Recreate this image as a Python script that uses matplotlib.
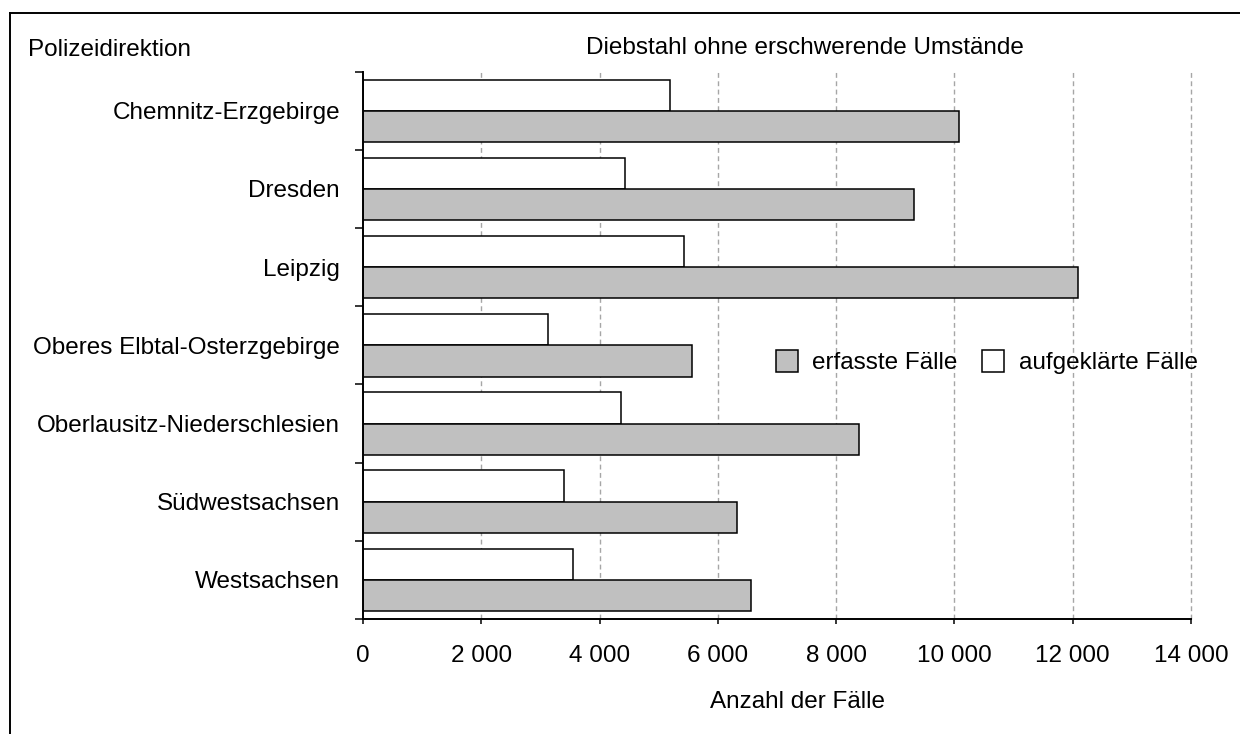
import numpy as np
import matplotlib
matplotlib.use("Agg")
from matplotlib import pyplot as plt
from matplotlib.patches import Patch
from matplotlib.lines import Line2D

plt.rcParams['font.family'] = ['Liberation Sans', 'DejaVu Sans']

# Daten
direktionen = ["Chemnitz-Erzgebirge", "Dresden", "Leipzig", "Oberes Elbtal-Osterzgebirge",
               "Oberlausitz-Niederschlesien", "Südwestsachsen", "Westsachsen"]
erfasst = [10070, 9310, 12090, 5570, 8390, 6320, 6560]
aufgeklaert = [5190, 4430, 5430, 3130, 4370, 3400, 3545]
xticks = [0, 2000, 4000, 6000, 8000, 10000, 12000, 14000]
xticklabels = ["0", "2 000", "4 000", "6 000", "8 000", "10 000", "12 000", "14 000"]

W, H = 1240, 734
fs = 17.5
fig = plt.figure(figsize=(W / 100, H / 100), dpi=100)
ax = fig.add_axes([363 / W, 1 - 619 / H, 828 / W, 547.3 / H])

y = np.arange(len(direktionen))
ax.barh(y - 0.2, aufgeklaert, height=0.4, color="white", edgecolor="black", linewidth=1.1, zorder=3)
ax.barh(y + 0.2, erfasst, height=0.4, color="#C0C0C0", edgecolor="black", linewidth=1.1, zorder=3)

ax.set_xlim(0, 14000)
ax.set_ylim(len(direktionen) - 0.5, -0.5)
ax.set_xticks(xticks)
ax.set_xticklabels(xticklabels, fontsize=fs)
ax.set_yticks(np.arange(-0.5, len(direktionen), 1))
ax.set_yticklabels([])
ax.set_yticks(y, minor=True)
ax.set_yticklabels(direktionen, minor=True, fontsize=fs)
ax.tick_params(axis="y", which="major", length=5.8, width=1.1, direction="out")
ax.tick_params(axis="y", which="minor", length=0, pad=16.5)
ax.tick_params(axis="x", which="major", length=3.6, width=1.1, direction="out", pad=15)

for s in ["top", "right"]:
    ax.spines[s].set_visible(False)
for s in ["left", "bottom"]:
    ax.spines[s].set_linewidth(1.4)
    ax.spines[s].set_zorder(4)

# gestrichelte Gitterlinien
for xv in xticks[1:]:
    ax.axvline(xv, color="#A6A6A6", linewidth=1.0, linestyle=(0, (3.5, 2.5)), zorder=1,
               clip_on=False)

fig.text(805 / W, 1 - 48 / H, "Diebstahl ohne erschwerende Umstände", fontsize=fs,
         ha="center", va="center")
fig.text(28 / W, 1 - 50 / H, "Polizeidirektion", fontsize=fs, ha="left", va="center")
fig.text(797 / W, 1 - 702 / H, "Anzahl der Fälle", fontsize=fs, ha="center", va="center")

handles = [Patch(facecolor="#C0C0C0", edgecolor="black", linewidth=1.1, label="erfasste Fälle"),
           Patch(facecolor="white", edgecolor="black", linewidth=1.1, label="aufgeklärte Fälle")]
fig.legend(handles=handles, loc="center left", bbox_to_anchor=(776 / W, 1 - 362 / H),
           ncol=2, frameon=False, fontsize=fs, handlelength=0.9, handleheight=1.05,
           handletextpad=0.6, columnspacing=1.0, borderpad=0, borderaxespad=0)

# Rahmen
fig.add_artist(Line2D([10 / W, 10 / W], [0, 1 - 12.7 / H], color="black", linewidth=1.4,
                      transform=fig.transFigure))
fig.add_artist(Line2D([10 / W, 1], [1 - 12.7 / H, 1 - 12.7 / H], color="black", linewidth=1.4,
                      transform=fig.transFigure))

fig.savefig("out.png", dpi=100)
